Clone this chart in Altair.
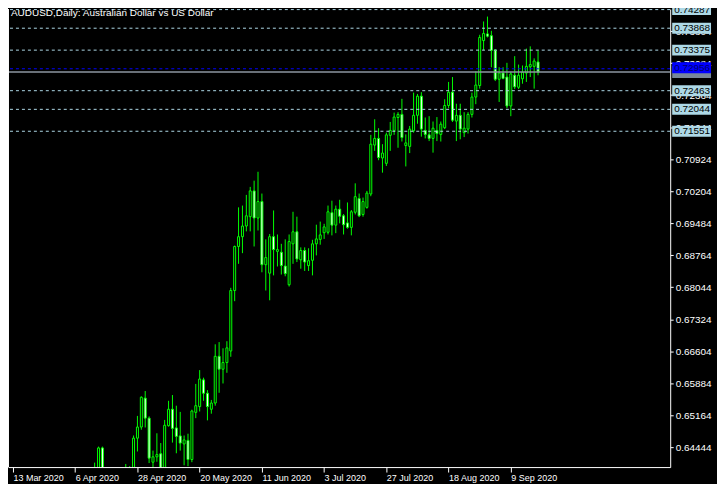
import altair as alt
import pandas as pd

# ---------------- data ----------------
first_bar = 21  # bar number of first drawn candle (13 Mar 2020 = bar 0, weekdays)
opens = [0.6360, 0.6379, 0.6443, 0.6330, 0.6360, 0.6345, 0.6365, 0.6330, 0.6350, 0.6360,
         0.6381, 0.6465, 0.6490, 0.6555, 0.6510, 0.6411, 0.6423, 0.6430, 0.6394, 0.6493,
         0.6530, 0.6488, 0.6470, 0.6452, 0.6460, 0.6417, 0.6523, 0.6536, 0.6596, 0.6566,
         0.6530, 0.6544, 0.6649, 0.6620, 0.6635, 0.6661, 0.6797, 0.6896, 0.6918, 0.6942,
         0.6963, 0.7021, 0.6960, 0.6997, 0.6855, 0.6836, 0.6918, 0.6885, 0.6883, 0.6852,
         0.6810, 0.6902, 0.6929, 0.6866, 0.6887, 0.6853, 0.6865, 0.6902, 0.6912, 0.6927,
         0.6928, 0.6972, 0.6944, 0.6980, 0.6965, 0.6949, 0.6939, 0.6973, 0.7004, 0.6968,
         0.6984, 0.7014, 0.7124, 0.7139, 0.7095, 0.7083, 0.7146, 0.7157, 0.7186, 0.7193,
         0.7123, 0.7121, 0.7156, 0.7191, 0.7234, 0.7157, 0.7147, 0.7139, 0.7157, 0.7148,
         0.7163, 0.7213, 0.7243, 0.7178, 0.7191, 0.7152, 0.7160, 0.7193, 0.7232, 0.7258,
         0.7359, 0.7374, 0.7370, 0.7337, 0.7272, 0.7286, 0.7277, 0.7212, 0.7281, 0.7254,
         0.7273, 0.7286, 0.7300, 0.7301, 0.7311]
highs = [0.6410, 0.6446, 0.6446, 0.6370, 0.6387, 0.6398, 0.6370, 0.6372, 0.6407, 0.6402,
         0.6471, 0.6515, 0.6559, 0.6571, 0.6514, 0.6437, 0.6476, 0.6454, 0.6506, 0.6549,
         0.6562, 0.6538, 0.6524, 0.6471, 0.6475, 0.6529, 0.6587, 0.6618, 0.6601, 0.6573,
         0.6551, 0.6676, 0.6681, 0.6667, 0.6683, 0.6803, 0.6898, 0.6984, 0.6988, 0.7012,
         0.7030, 0.7044, 0.7064, 0.7015, 0.6912, 0.6924, 0.6977, 0.6923, 0.6902, 0.6912,
         0.6923, 0.6974, 0.6963, 0.6894, 0.6894, 0.6892, 0.6911, 0.6945, 0.6952, 0.6947,
         0.6988, 0.6999, 0.6988, 0.7001, 0.6969, 0.6995, 0.6978, 0.7038, 0.7015, 0.7006,
         0.7021, 0.7147, 0.7182, 0.7162, 0.7126, 0.7152, 0.7176, 0.7197, 0.7198, 0.7228,
         0.7148, 0.7167, 0.7242, 0.7239, 0.7243, 0.7186, 0.7189, 0.7177, 0.7187, 0.7177,
         0.7227, 0.7266, 0.7277, 0.7217, 0.7217, 0.7198, 0.7198, 0.7242, 0.7290, 0.7372,
         0.7402, 0.7413, 0.7381, 0.7340, 0.7299, 0.7299, 0.7309, 0.7289, 0.7324, 0.7305,
         0.7303, 0.7341, 0.7346, 0.7319, 0.7337]
lows = [0.6340, 0.6370, 0.6320, 0.6315, 0.6320, 0.6310, 0.6265, 0.6300, 0.6320, 0.6340,
        0.6374, 0.6435, 0.6484, 0.6489, 0.6409, 0.6367, 0.6412, 0.6391, 0.6379, 0.6491,
        0.6455, 0.6431, 0.6437, 0.6404, 0.6402, 0.6411, 0.6510, 0.6525, 0.6549, 0.6505,
        0.6520, 0.6538, 0.6567, 0.6588, 0.6612, 0.6648, 0.6773, 0.6857, 0.6881, 0.6930,
        0.6930, 0.6896, 0.6932, 0.6838, 0.6797, 0.6775, 0.6831, 0.6851, 0.6833, 0.6829,
        0.6806, 0.6857, 0.6861, 0.6846, 0.6841, 0.6841, 0.6831, 0.6876, 0.6900, 0.6913,
        0.6923, 0.6921, 0.6926, 0.6948, 0.6923, 0.6936, 0.6921, 0.6968, 0.6962, 0.6963,
        0.6981, 0.7009, 0.7111, 0.7090, 0.7062, 0.7077, 0.7111, 0.7147, 0.7118, 0.7132,
        0.7076, 0.7106, 0.7152, 0.7172, 0.7143, 0.7139, 0.7133, 0.7107, 0.7133, 0.7132,
        0.7160, 0.7207, 0.7176, 0.7133, 0.7137, 0.7142, 0.7150, 0.7186, 0.7216, 0.7251,
        0.7337, 0.7366, 0.7299, 0.7268, 0.7221, 0.7272, 0.7207, 0.7189, 0.7250, 0.7250,
        0.7262, 0.7266, 0.7277, 0.7251, 0.7281]
closes = [0.6381, 0.6443, 0.6330, 0.6355, 0.6345, 0.6365, 0.6330, 0.6350, 0.6345, 0.6396,
          0.6465, 0.6490, 0.6557, 0.6510, 0.6420, 0.6423, 0.6428, 0.6396, 0.6494, 0.6530,
          0.6487, 0.6469, 0.6454, 0.6461, 0.6417, 0.6526, 0.6538, 0.6598, 0.6566, 0.6536,
          0.6544, 0.6649, 0.6620, 0.6635, 0.6668, 0.6797, 0.6896, 0.6918, 0.6942, 0.6965,
          0.7021, 0.6960, 0.6997, 0.6855, 0.6871, 0.6918, 0.6889, 0.6889, 0.6853, 0.6835,
          0.6907, 0.6929, 0.6868, 0.6887, 0.6861, 0.6864, 0.6902, 0.6913, 0.6922, 0.6940,
          0.6974, 0.6944, 0.6980, 0.6964, 0.6945, 0.6939, 0.6974, 0.7008, 0.6965, 0.6997,
          0.7016, 0.7126, 0.7139, 0.7096, 0.7106, 0.7147, 0.7157, 0.7187, 0.7193, 0.7141,
          0.7129, 0.7160, 0.7191, 0.7234, 0.7160, 0.7148, 0.7139, 0.7162, 0.7150, 0.7171,
          0.7213, 0.7243, 0.7180, 0.7191, 0.7160, 0.7162, 0.7193, 0.7232, 0.7259, 0.7366,
          0.7375, 0.7369, 0.7337, 0.7272, 0.7286, 0.7274, 0.7212, 0.7284, 0.7255, 0.7281,
          0.7288, 0.7301, 0.7305, 0.7313, 0.72882]

date_tick_bars = [0, 16, 32, 48, 64, 80, 96, 112, 128]
date_tick_labels = ["13 Mar 2020", "6 Apr 2020", "28 Apr 2020", "20 May 2020", "11 Jun 2020",
                    "3 Jul 2020", "27 Jul 2020", "18 Aug 2020", "9 Sep 2020"]
price_ticks = [0.64444, 0.65164, 0.65884, 0.66604, 0.67324, 0.68044, 0.68764,
               0.69484, 0.70204, 0.70924, 0.71644, 0.72364, 0.73084, 0.73804]
level_prices = [0.74287, 0.73868, 0.73375, 0.72463, 0.72044, 0.71551]
marker_price = 0.72956
bid_price = 0.72882
title_text = "AUDUSD,Daily: Australian Dollar vs US Dollar"

# ---------------- layout ----------------
W, H = 665, 460
FONT = "Liberation Sans"
GREEN = "#00ff00"
LEVEL = "#add8e6"

candles = pd.DataFrame({
    "bar": list(range(first_bar, first_bar + len(opens))),
    "open": opens, "high": highs, "low": lows, "close": closes,
})
levels = pd.DataFrame({"price": level_prices})
marker = pd.DataFrame({"price": [marker_price]})
bid = pd.DataFrame({"price": [bid_price]})
one = pd.DataFrame({"t": [title_text]})

label_js = "[" + ",".join("'%s'" % s for s in date_tick_labels) + "][round(datum.value/16)]"

xscale = alt.Scale(domain=[0, 167.7], nice=False, zero=False)
yscale = alt.Scale(domain=[0.64000, 0.74300], nice=False, zero=False)

x_axis = alt.Axis(values=date_tick_bars, labelExpr=label_js, labelAlign="left",
                  labelBaseline="top", labelFont=FONT, labelFontSize=9,
                  labelColor="white", tickColor="white", domainColor="white",
                  tickSize=5, labelPadding=1, labelFlush=False,
                  labelOverlap=False, grid=False, title=None)

y_axis = alt.Axis(values=price_ticks, format=".5f", orient="right", labelFont=FONT,
                  labelFontSize=10, labelColor="white", tickColor="white",
                  domainColor="white", tickSize=3, labelPadding=2, grid=False,
                  labelOverlap=False, labelFlush=False, labelBound=False, title=None)


def X(field):
    return alt.X(field, scale=xscale, axis=x_axis, title=None)


def Y(field):
    return alt.Y(field, scale=yscale, axis=y_axis, title=None)


base = alt.Chart(candles)

wicks = base.mark_rule(color=GREEN, strokeWidth=1, clip=True).encode(
    x=X("bar:Q"), y=Y("low:Q"), y2="high:Q")

bodies = base.mark_bar(width=2, stroke=GREEN, strokeWidth=1, clip=True).encode(
    x=X("bar:Q"), y=Y("open:Q"), y2="close:Q",
    fill=alt.condition("datum.close < datum.open", alt.value("white"), alt.value("black")),
)

level_lines = alt.Chart(levels).mark_rule(color=LEVEL, strokeDash=[3, 3], strokeWidth=1,
                                         clip=True).encode(y=Y("price:Q"))

marker_line = alt.Chart(marker).mark_rule(color="#0000ff", strokeDash=[3, 3], strokeWidth=1,
                                         clip=True).encode(y=Y("price:Q"))

bid_line = alt.Chart(bid).mark_rule(color="#8c96a0", strokeWidth=1.5, clip=True).encode(
    y=Y("price:Q"))

left_frame = alt.Chart(one).mark_rule(color="white", strokeWidth=1).encode(
    x=alt.value(0.5), y=alt.value(0), y2=alt.value(H))

title = alt.Chart(one).mark_text(align="left", baseline="middle", font=FONT, fontSize=10,
                                 color="white").encode(
    x=alt.value(3), y=alt.value(4), text="t:N")

bid_box = alt.Chart(bid).mark_rect(color="#778899", yOffset=-6, y2Offset=6).encode(
    y=Y("price:Q"), y2="price:Q", x=alt.value(W + 2), x2=alt.value(W + 41))

level_boxes = alt.Chart(levels).mark_rect(color=LEVEL, yOffset=-5.5, y2Offset=5.5).encode(
    y=Y("price:Q"), y2="price:Q", x=alt.value(W + 2), x2=alt.value(W + 41))

level_text = alt.Chart(levels).mark_text(align="left", baseline="middle", font=FONT,
                                         fontSize=10, color="black").encode(
    y=Y("price:Q"), x=alt.value(W + 4), text=alt.Text("price:Q", format=".5f"))

marker_box = alt.Chart(marker).mark_rect(color="#0000ff", yOffset=-6.5, y2Offset=4.5).encode(
    y=Y("price:Q"), y2="price:Q", x=alt.value(W + 2), x2=alt.value(W + 41))

marker_text = alt.Chart(marker).mark_text(align="left", baseline="middle", font=FONT,
                                          fontSize=10, color="#00006a", dy=-1).encode(
    y=Y("price:Q"), x=alt.value(W + 4), text=alt.Text("price:Q", format=".5f"))

chart = alt.layer(
    wicks, bodies, level_lines, marker_line, bid_line, left_frame, title,
    bid_box, level_boxes, level_text, marker_box, marker_text,
).properties(
    width=W, height=H,
    padding={"left": 0, "top": 0, "right": 47, "bottom": 16},
    autosize=alt.AutoSizeParams(type="none"),
    background="black",
).configure_view(
    stroke="transparent"
).configure_axis(
    labelOverlap=False
)

chart.save("out.html", embed_options={"renderer": "svg", "actions": False})
